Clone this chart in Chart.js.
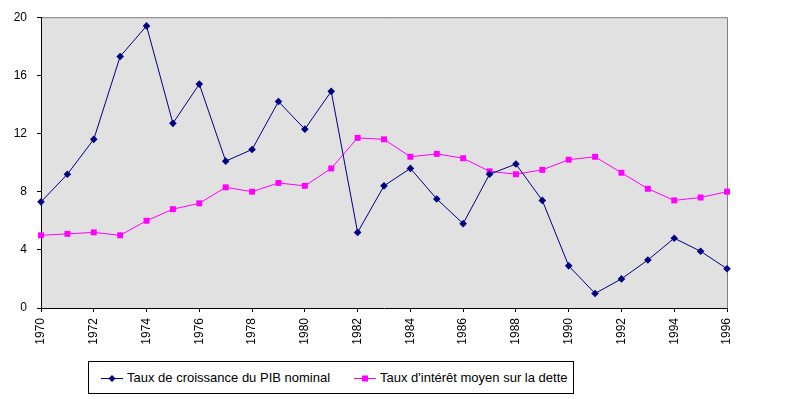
<!DOCTYPE html>
<html>
<head>
<meta charset="utf-8">
<script src="https://cdn.jsdelivr.net/npm/chart.js@4/dist/chart.umd.min.js"></script>
<style>
  body { margin: 0; background: #fff; }
  #wrap { position: relative; width: 796px; height: 399px; }
  #legend {
    position: absolute; left: 88px; top: 361px; width: 486px; height: 33px;
    box-sizing: border-box; border: 1px solid #000; background: #fff;
    font: 13px "Liberation Sans", Arial, sans-serif; color: #000;
  }
  .item { position: absolute; top: 8px; white-space: nowrap; line-height: 16px; }
  .item svg { vertical-align: top; margin-right: 3px; }
</style>
</head>
<body>
<div id="wrap">
  <canvas id="chart" width="796" height="399"></canvas>
  <div id="legend">
    <div class="item" style="left: 11px">
      <svg width="24" height="16"><line x1="1" y1="8.5" x2="23" y2="8.5" stroke="#000080" stroke-width="1"/><path d="M12 5 L15.5 8.5 L12 12 L8.5 8.5 Z" fill="#000080"/></svg>Taux de croissance du PIB nominal
    </div>
    <div class="item" style="left: 264px">
      <svg width="24" height="16"><line x1="1" y1="8.5" x2="23" y2="8.5" stroke="#FF00FF" stroke-width="1"/><rect x="9" y="5.5" width="6" height="6" fill="#FF00FF"/></svg>Taux d'intérêt moyen sur la dette
    </div>
  </div>
</div>
<script>
const years = [1970, 1971, 1972, 1973, 1974, 1975, 1976, 1977, 1978, 1979,
  1980, 1981, 1982, 1983, 1984, 1985, 1986, 1987, 1988, 1989,
  1990, 1991, 1992, 1993, 1994, 1995, 1996];

const croissancePib = [7.3, 9.2, 11.6, 17.3, 19.4, 12.7, 15.4, 10.1, 10.9, 14.2,
  12.3, 14.9, 5.2, 8.4, 9.6, 7.5, 5.8, 9.2, 9.9, 7.4,
  2.9, 1.0, 2.0, 3.3, 4.8, 3.9, 2.7];

const tauxInteret = [5.0, 5.1, 5.2, 5.0, 6.0, 6.8, 7.2, 8.3, 8.0, 8.6,
  8.4, 9.6, 11.7, 11.6, 10.4, 10.6, 10.3, 9.4, 9.2, 9.5,
  10.2, 10.4, 9.3, 8.2, 7.4, 7.6, 8.0];

const yTicks = [0, 4, 8, 12, 16, 20];

Chart.defaults.font.family = '"Liberation Sans", Arial, sans-serif';
Chart.defaults.font.size = 12;
Chart.defaults.color = "#000";

// fond gris de la zone de tracé + bordure haut/droite
const plotArea = {
  id: "plotArea",
  beforeDraw(chart) {
    const { ctx, chartArea: a } = chart;
    ctx.save();
    ctx.fillStyle = "#E1E1E1";
    ctx.fillRect(a.left, a.top, a.right - a.left, a.bottom - a.top);
    ctx.strokeStyle = "#808080";
    ctx.lineWidth = 1;
    ctx.beginPath();
    ctx.moveTo(a.left, a.top + 0.5);
    ctx.lineTo(a.right + 0.5, a.top + 0.5);
    ctx.lineTo(a.right + 0.5, a.bottom);
    ctx.stroke();
    ctx.restore();
  }
};

new Chart(document.getElementById("chart"), {
  type: "line",
  data: {
    labels: years,
    datasets: [{
      label: "Taux de croissance du PIB nominal",
      data: croissancePib,
      borderColor: "#000080",
      backgroundColor: "#000080",
      borderWidth: 1,
      pointStyle: "rectRot",
      pointRadius: 3.8,
      pointBorderWidth: 0,
      tension: 0,
      clip: false
    }, {
      label: "Taux d'intérêt moyen sur la dette",
      data: tauxInteret,
      borderColor: "#FF00FF",
      backgroundColor: "#FF00FF",
      borderWidth: 1,
      pointStyle: "rect",
      pointRadius: 4.2,
      pointBorderWidth: 0,
      tension: 0,
      clip: false
    }]
  },
  options: {
    responsive: false,
    animation: false,
    layout: { padding: { top: 16, right: 69, bottom: 0, left: 0 } },
    scales: {
      x: {
        afterFit(scale) { scale.height = 91; },
        grid: {
          drawOnChartArea: false,
          tickLength: 4,
          tickColor: (c) => (c.index % 2 === 0 ? "#000" : "rgba(0,0,0,0)")
        },
        border: { color: "#000", width: 1 },
        ticks: {
          autoSkip: false,
          minRotation: 90,
          maxRotation: 90,
          padding: 6,
          callback: (v, i) => (i % 2 === 0 ? years[i] : "")
        }
      },
      y: {
        min: 0,
        max: 20,
        afterFit(scale) { scale.width = 41; },
        afterBuildTicks(scale) { scale.ticks = yTicks.map((v) => ({ value: v })); },
        grid: { drawOnChartArea: false, tickLength: 4, tickColor: "#000" },
        border: { color: "#000", width: 1 },
        ticks: { padding: 10 }
      }
    },
    plugins: {
      legend: { display: false },
      tooltip: { enabled: false }
    }
  },
  plugins: [plotArea]
});
</script>
</body>
</html>
